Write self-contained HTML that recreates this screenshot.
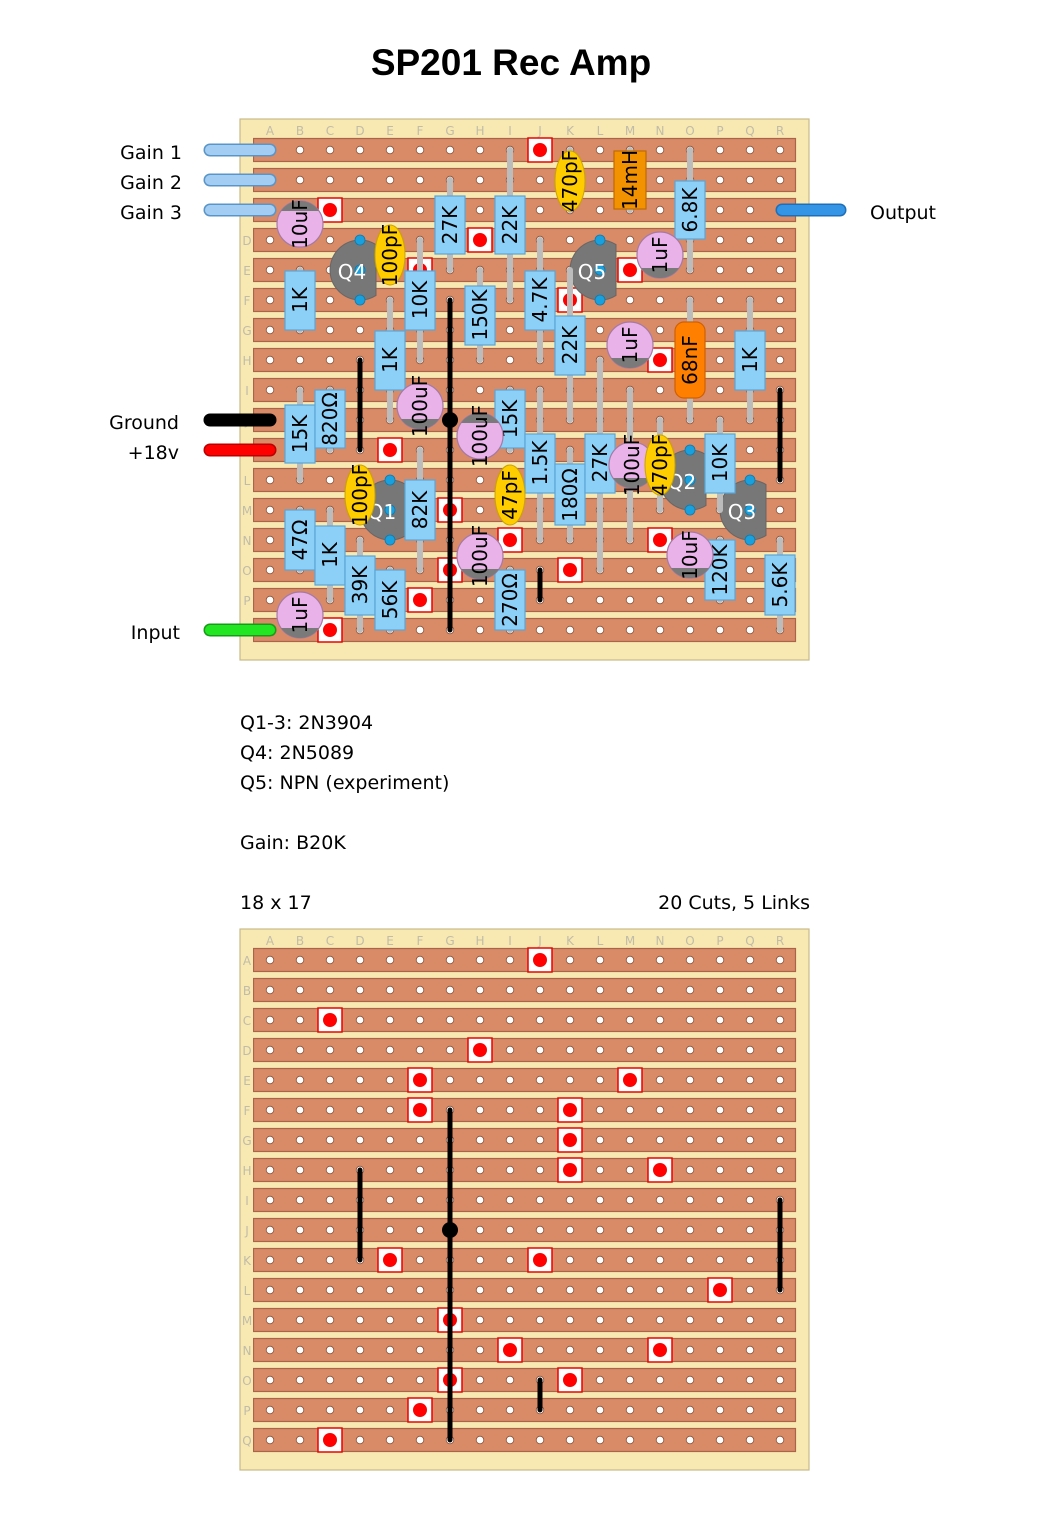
<!DOCTYPE html>
<html><head><meta charset="utf-8"><style>
body{margin:0;background:#fff;}
svg{display:block;font-family:"DejaVu Sans","Liberation Sans",sans-serif;}
.lead{stroke:#bcbcbc;stroke-width:6;stroke-linecap:round;}
.res{fill:#8ccff7;stroke:#5aa6d6;stroke-width:1.2;}
.rt{font-size:20px;fill:#000;text-anchor:middle;dominant-baseline:central;}
.ec{fill:#e9b2e9;stroke:#a57aa5;stroke-width:1.2;}
.eg{fill:#7a7a7a;}
.cc{fill:#ffcc00;stroke:#c9a400;stroke-width:1;}
.tr{fill:#777;stroke:#666;}
.pin{fill:#1aa0dd;stroke:#0a7ab0;stroke-width:0.8;}
.qt{font-size:20px;fill:#fff;text-anchor:middle;dominant-baseline:central;}
.lk{stroke:#000;stroke-width:5;stroke-linecap:round;}
.lbl{font-size:19px;fill:#000;}
.gl{font-size:12px;fill:#c0bca8;text-anchor:middle;}
</style></head><body>
<svg width="1062" height="1533" viewBox="0 0 1062 1533" xmlns="http://www.w3.org/2000/svg">
<defs>
<pattern id="strip" patternUnits="userSpaceOnUse" x="253" y="135" width="544" height="30">
<rect x="0.5" y="3.5" width="542" height="23" fill="#d98a66" stroke="#a9654a" stroke-width="1.2"/>
</pattern>
<pattern id="hole" patternUnits="userSpaceOnUse" x="255" y="135" width="30" height="30">
<circle cx="15" cy="15" r="3.8" fill="#fff" stroke="#8a5038" stroke-width="0.8"/>
</pattern>
<g id="cut"><rect x="-12" y="-12" width="24" height="24" fill="#fff" stroke="#e00" stroke-width="1.5"/><circle r="7" fill="#f00"/></g>
<g id="board">
<rect x="240" y="119" width="569" height="541" fill="#f8e8b2" stroke="#c9bb8a" stroke-width="1.2"/>
<rect x="253" y="135" width="544" height="510" fill="url(#strip)"/>
<rect x="255" y="135" width="540" height="510" fill="url(#hole)"/>
<g class="gl">
<text x="270" y="135">A</text><text x="300" y="135">B</text><text x="330" y="135">C</text><text x="360" y="135">D</text><text x="390" y="135">E</text><text x="420" y="135">F</text><text x="450" y="135">G</text><text x="480" y="135">H</text><text x="510" y="135">I</text><text x="540" y="135">J</text><text x="570" y="135">K</text><text x="600" y="135">L</text><text x="630" y="135">M</text><text x="660" y="135">N</text><text x="690" y="135">O</text><text x="720" y="135">P</text><text x="750" y="135">Q</text><text x="780" y="135">R</text>
<text x="247" y="155">A</text><text x="247" y="185">B</text><text x="247" y="215">C</text><text x="247" y="245">D</text><text x="247" y="275">E</text><text x="247" y="305">F</text><text x="247" y="335">G</text><text x="247" y="365">H</text><text x="247" y="395">I</text><text x="247" y="425">J</text><text x="247" y="455">K</text><text x="247" y="485">L</text><text x="247" y="515">M</text><text x="247" y="545">N</text><text x="247" y="575">O</text><text x="247" y="605">P</text><text x="247" y="635">Q</text>
</g>
<use href="#cut" x="540" y="150"/><use href="#cut" x="330" y="210"/><use href="#cut" x="480" y="240"/>
<use href="#cut" x="420" y="270"/><use href="#cut" x="630" y="270"/><use href="#cut" x="420" y="300"/><use href="#cut" x="570" y="300"/>
<use href="#cut" x="570" y="330"/><use href="#cut" x="570" y="360"/><use href="#cut" x="660" y="360"/>
<use href="#cut" x="390" y="450"/><use href="#cut" x="540" y="450"/><use href="#cut" x="720" y="480"/>
<use href="#cut" x="450" y="510"/><use href="#cut" x="510" y="540"/><use href="#cut" x="660" y="540"/>
<use href="#cut" x="450" y="570"/><use href="#cut" x="570" y="570"/><use href="#cut" x="420" y="600"/><use href="#cut" x="330" y="630"/>
<line class="lk" x1="450" y1="300" x2="450" y2="630"/><circle cx="450" cy="420" r="8"/>
<line class="lk" x1="360" y1="360" x2="360" y2="450"/>
<line class="lk" x1="780" y1="390" x2="780" y2="480"/>
<line class="lk" x1="540" y1="570" x2="540" y2="600"/>
</g>
</defs>

<text x="511" y="75" text-anchor="middle" font-size="37" font-weight="bold" font-family="Liberation Sans, sans-serif">SP201 Rec Amp</text>

<use href="#board"/>
<use href="#board" y="810"/>

<g>
<path class="tr" d="M376,244.6 A30,30 0 1 0 376,295.4 Z"/><circle class="pin" cx="360" cy="240" r="5"/><circle class="pin" cx="360" cy="300" r="5"/><circle class="pin" cx="360" cy="270" r="5"/><text class="qt" x="352" y="272">Q4</text>
<path class="tr" d="M616,244.6 A30,30 0 1 0 616,295.4 Z"/><circle class="pin" cx="600" cy="240" r="5"/><circle class="pin" cx="600" cy="300" r="5"/><circle class="pin" cx="600" cy="270" r="5"/><text class="qt" x="592" y="272">Q5</text>
<path class="tr" d="M406,484.6 A30,30 0 1 0 406,535.4 Z"/><circle class="pin" cx="390" cy="480" r="5"/><circle class="pin" cx="390" cy="540" r="5"/><circle class="pin" cx="390" cy="510" r="5"/><text class="qt" x="382" y="512">Q1</text>
<path class="tr" d="M706,454.6 A30,30 0 1 0 706,505.4 Z"/><circle class="pin" cx="690" cy="450" r="5"/><circle class="pin" cx="690" cy="510" r="5"/><circle class="pin" cx="690" cy="480" r="5"/><text class="qt" x="682" y="482">Q2</text>
<path class="tr" d="M766,484.6 A30,30 0 1 0 766,535.4 Z"/><circle class="pin" cx="750" cy="480" r="5"/><circle class="pin" cx="750" cy="540" r="5"/><circle class="pin" cx="750" cy="510" r="5"/><text class="qt" x="742" y="512">Q3</text>
</g>

<g>
<line class="lead" x1="300" y1="270" x2="300" y2="330"/>
<line class="lead" x1="450" y1="180" x2="450" y2="270"/>
<line class="lead" x1="510" y1="150" x2="510" y2="300"/>
<line class="lead" x1="420" y1="240" x2="420" y2="360"/>
<line class="lead" x1="480" y1="270" x2="480" y2="360"/>
<line class="lead" x1="390" y1="300" x2="390" y2="420"/>
<line class="lead" x1="540" y1="240" x2="540" y2="360"/>
<line class="lead" x1="570" y1="270" x2="570" y2="420"/>
<line class="lead" x1="690" y1="150" x2="690" y2="270"/>
<line class="lead" x1="630" y1="150" x2="630" y2="210"/>
<line class="lead" x1="690" y1="300" x2="690" y2="420"/>
<line class="lead" x1="750" y1="300" x2="750" y2="420"/>
<line class="lead" x1="300" y1="390" x2="300" y2="480"/>
<line class="lead" x1="330" y1="390" x2="330" y2="450"/>
<line class="lead" x1="510" y1="390" x2="510" y2="450"/>
<line class="lead" x1="420" y1="450" x2="420" y2="570"/>
<line class="lead" x1="300" y1="510" x2="300" y2="570"/>
<line class="lead" x1="330" y1="510" x2="330" y2="600"/>
<line class="lead" x1="360" y1="540" x2="360" y2="630"/>
<line class="lead" x1="390" y1="570" x2="390" y2="630"/>
<line class="lead" x1="510" y1="570" x2="510" y2="630"/>
<line class="lead" x1="540" y1="390" x2="540" y2="540"/>
<line class="lead" x1="570" y1="450" x2="570" y2="540"/>
<line class="lead" x1="600" y1="360" x2="600" y2="570"/>
<line class="lead" x1="720" y1="420" x2="720" y2="510"/>
<line class="lead" x1="720" y1="540" x2="720" y2="600"/>
<line class="lead" x1="780" y1="540" x2="780" y2="630"/>
<line class="lead" x1="630" y1="390" x2="630" y2="540"/>
<line class="lead" x1="660" y1="420" x2="660" y2="510"/>
<line class="lead" x1="570" y1="150" x2="570" y2="210"/>
<line class="lead" x1="390" y1="240" x2="390" y2="270"/>
</g>

<g>
<rect class="res" x="285" y="271" width="30" height="59"/><text class="rt" transform="translate(300,300) rotate(-90)">1K</text>
<rect class="res" x="435" y="196" width="30" height="58"/><text class="rt" transform="translate(450,225) rotate(-90)">27K</text>
<rect class="res" x="495" y="196" width="30" height="58"/><text class="rt" transform="translate(510,225) rotate(-90)">22K</text>
<rect class="res" x="405" y="271" width="30" height="59"/><text class="rt" transform="translate(420,300) rotate(-90)">10K</text>
<rect class="res" x="465" y="286" width="30" height="59"/><text class="rt" transform="translate(480,315) rotate(-90)">150K</text>
<rect class="res" x="375" y="331" width="30" height="59"/><text class="rt" transform="translate(390,360) rotate(-90)">1K</text>
<rect class="res" x="525" y="271" width="30" height="59"/><text class="rt" transform="translate(540,300) rotate(-90)">4.7K</text>
<rect class="res" x="555" y="316" width="30" height="59"/><text class="rt" transform="translate(570,345) rotate(-90)">22K</text>
<rect class="res" x="675" y="181" width="30" height="58"/><text class="rt" transform="translate(690,210) rotate(-90)">6.8K</text>
<rect x="614" y="151" width="32" height="58" fill="#f39200" stroke="#c06a00" stroke-width="1.2"/><text class="rt" transform="translate(630,180) rotate(-90)">14mH</text>
<rect x="675" y="322" width="30" height="76" rx="9" fill="#ff8000" stroke="#d06000" stroke-width="1.2"/><text class="rt" transform="translate(690,360) rotate(-90)">68nF</text>
<rect class="res" x="735" y="331" width="30" height="59"/><text class="rt" transform="translate(750,360) rotate(-90)">1K</text>
<rect class="res" x="285" y="405" width="30" height="58"/><text class="rt" transform="translate(300,434) rotate(-90)">15K</text>
<rect class="res" x="315" y="390" width="30" height="58"/><text class="rt" transform="translate(330,419) rotate(-90)">820Ω</text>
<rect class="res" x="495" y="390" width="30" height="58"/><text class="rt" transform="translate(510,419) rotate(-90)">15K</text>
<rect class="res" x="405" y="480" width="30" height="60"/><text class="rt" transform="translate(420,510) rotate(-90)">82K</text>
<rect class="res" x="285" y="510" width="30" height="60"/><text class="rt" transform="translate(300,540) rotate(-90)">47Ω</text>
<rect class="res" x="315" y="526" width="30" height="59"/><text class="rt" transform="translate(330,555) rotate(-90)">1K</text>
<rect class="res" x="345" y="556" width="30" height="59"/><text class="rt" transform="translate(360,585) rotate(-90)">39K</text>
<rect class="res" x="375" y="570" width="30" height="60"/><text class="rt" transform="translate(390,600) rotate(-90)">56K</text>
<rect class="res" x="495" y="570" width="30" height="60"/><text class="rt" transform="translate(510,600) rotate(-90)">270Ω</text>
<rect class="res" x="525" y="434" width="30" height="59"/><text class="rt" transform="translate(540,463) rotate(-90)">1.5K</text>
<rect class="res" x="555" y="464" width="30" height="61"/><text class="rt" transform="translate(570,495) rotate(-90)">180Ω</text>
<rect class="res" x="585" y="434" width="30" height="59"/><text class="rt" transform="translate(600,463) rotate(-90)">27K</text>
<rect class="res" x="705" y="434" width="30" height="59"/><text class="rt" transform="translate(720,463) rotate(-90)">10K</text>
<rect class="res" x="705" y="540" width="30" height="60"/><text class="rt" transform="translate(720,570) rotate(-90)">120K</text>
<rect class="res" x="765" y="555" width="30" height="60"/><text class="rt" transform="translate(780,585) rotate(-90)">5.6K</text>
</g>

<g>
<circle class="ec" cx="300" cy="224" r="23"/><path class="eg" d="M281,211 A23,23 0 0 1 319,211 Z"/><text class="rt" transform="translate(300,224) rotate(-90)">10uF</text>
<circle class="ec" cx="660" cy="255" r="23"/><path class="eg" d="M641,268 A23,23 0 0 0 679,268 Z"/><text class="rt" transform="translate(660,255) rotate(-90)">1uF</text>
<circle class="ec" cx="630" cy="345" r="23"/><path class="eg" d="M611,358 A23,23 0 0 0 649,358 Z"/><text class="rt" transform="translate(630,345) rotate(-90)">1uF</text>
<circle class="ec" cx="420" cy="406" r="23"/><path class="eg" d="M401,419 A23,23 0 0 0 439,419 Z"/><text class="rt" transform="translate(420,406) rotate(-90)">100uF</text>
<circle class="ec" cx="480" cy="436" r="23"/><path class="eg" d="M461,423 A23,23 0 0 1 499,423 Z"/><text class="rt" transform="translate(480,436) rotate(-90)">100uF</text>
<circle class="ec" cx="480" cy="556" r="23"/><path class="eg" d="M461,569 A23,23 0 0 0 499,569 Z"/><text class="rt" transform="translate(480,556) rotate(-90)">100uF</text>
<circle class="ec" cx="300" cy="615" r="23"/><path class="eg" d="M281,628 A23,23 0 0 0 319,628 Z"/><text class="rt" transform="translate(300,615) rotate(-90)">1uF</text>
<circle class="ec" cx="632" cy="465" r="23"/><path class="eg" d="M613,478 A23,23 0 0 0 651,478 Z"/><text class="rt" transform="translate(632,465) rotate(-90)">100uF</text>
<circle class="ec" cx="690" cy="555" r="23"/><path class="eg" d="M671,568 A23,23 0 0 0 709,568 Z"/><text class="rt" transform="translate(690,555) rotate(-90)">10uF</text>
</g>

<g>
<ellipse class="cc" cx="570" cy="181" rx="15" ry="30"/><text class="rt" transform="translate(570,181) rotate(-90)">470pF</text>
<ellipse class="cc" cx="390" cy="255" rx="15" ry="30"/><text class="rt" transform="translate(390,255) rotate(-90)">100pF</text>
<ellipse class="cc" cx="360" cy="495" rx="15" ry="30"/><text class="rt" transform="translate(360,495) rotate(-90)">100pF</text>
<ellipse class="cc" cx="510" cy="495" rx="15" ry="30"/><text class="rt" transform="translate(510,495) rotate(-90)">47pF</text>
<ellipse class="cc" cx="660" cy="465" rx="15" ry="30"/><text class="rt" transform="translate(660,465) rotate(-90)">470pF</text>
</g>

<g stroke-linecap="round">
<line x1="210" y1="150" x2="270" y2="150" stroke="#5a95c8" stroke-width="13"/><line x1="210" y1="150" x2="270" y2="150" stroke="#a3cdf2" stroke-width="10"/>
<line x1="210" y1="180" x2="270" y2="180" stroke="#5a95c8" stroke-width="13"/><line x1="210" y1="180" x2="270" y2="180" stroke="#a3cdf2" stroke-width="10"/>
<line x1="210" y1="210" x2="270" y2="210" stroke="#5a95c8" stroke-width="13"/><line x1="210" y1="210" x2="270" y2="210" stroke="#a3cdf2" stroke-width="10"/>
<line x1="782" y1="210" x2="840" y2="210" stroke="#1f6fb8" stroke-width="13"/><line x1="782" y1="210" x2="840" y2="210" stroke="#3494e6" stroke-width="10"/>
<line x1="210" y1="420" x2="270" y2="420" stroke="#000" stroke-width="13"/>
<line x1="210" y1="450" x2="270" y2="450" stroke="#b00" stroke-width="13"/><line x1="210" y1="450" x2="270" y2="450" stroke="#f00" stroke-width="10"/>
<line x1="210" y1="630" x2="270" y2="630" stroke="#1a9a1a" stroke-width="13"/><line x1="210" y1="630" x2="270" y2="630" stroke="#22e622" stroke-width="10"/>
</g>

<g class="lbl" font-family="DejaVu Sans, sans-serif">
<text x="182" y="159" text-anchor="end">Gain 1</text>
<text x="182" y="189" text-anchor="end">Gain 2</text>
<text x="182" y="219" text-anchor="end">Gain 3</text>
<text x="870" y="219">Output</text>
<text x="179" y="429" text-anchor="end">Ground</text>
<text x="179" y="459" text-anchor="end">+18v</text>
<text x="180" y="639" text-anchor="end">Input</text>
<text x="240" y="729">Q1-3: 2N3904</text>
<text x="240" y="759">Q4: 2N5089</text>
<text x="240" y="789">Q5: NPN (experiment)</text>
<text x="240" y="849">Gain: B20K</text>
<text x="240" y="909">18 x 17</text>
<text x="810" y="909" text-anchor="end">20 Cuts, 5 Links</text>
</g>
</svg>
</body></html>
